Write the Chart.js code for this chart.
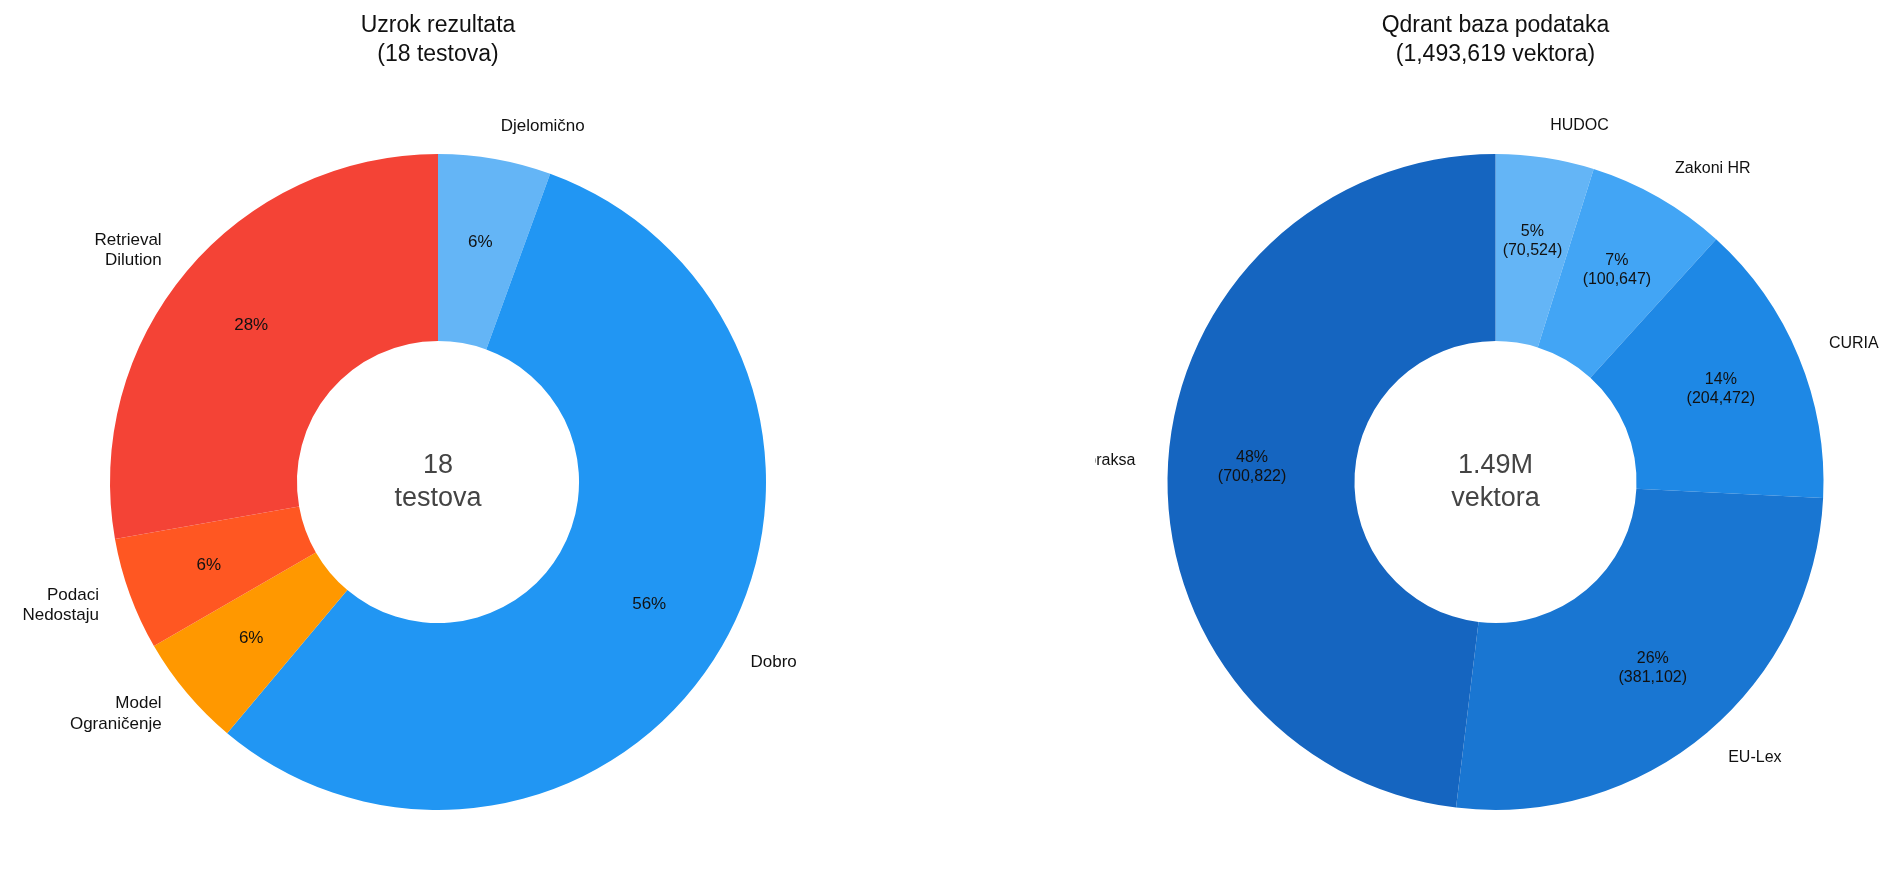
<!DOCTYPE html>
<html>
<head>
<meta charset="utf-8">
<script src="https://cdn.jsdelivr.net/npm/chart.js@4"></script>
<style>
  body { margin: 0; background: #fff; font-family: 'Liberation Sans', Arial, sans-serif; }
  .box { position: absolute; top: 0; height: 878px; }
  .title { position: absolute; top: 10px; width: 100%; text-align: center; font-size: 23px; line-height: 29px; color: #111; }
</style>
</head>
<body>
<div class="box" style="left:0;width:876px">
  <div class="title">Uzrok rezultata<br>(18 testova)</div>
  <canvas id="leftChart"></canvas>
</div>
<div class="box" style="left:1095px;width:801px">
  <div class="title">Qdrant baza podataka<br>(1,493,619 vektora)</div>
  <canvas id="rightChart"></canvas>
</div>
<script>
// left chart data
let causeLabels = ['Djelomično', 'Dobro', 'Model\nOgraničenje', 'Podaci\nNedostaju', 'Retrieval\nDilution'];
let causeValues = [1, 10, 1, 1, 5];
let causeColors = ['#64B5F6', '#2196F3', '#FF9800', '#FF5722', '#F44336'];

// right chart data
let dbLabels = ['HUDOC', 'Zakoni HR', 'CURIA', 'EU-Lex', 'Sudska praksa'];
let dbValues = [70524, 100647, 204472, 381102, 700822];
let dbColors = ['#64B5F6', '#42A5F5', '#1E88E5', '#1976D2', '#1565C0'];

let labelPlugin = {
    id: 'sliceLabels',
    afterDatasetsDraw(chart, args, opts) {
        let ctx = chart.ctx;
        let meta = chart.getDatasetMeta(0);
        let values = chart.data.datasets[0].data;
        let total = values.reduce((a, b) => a + b, 0);
        ctx.save();
        meta.data.forEach((arc, i) => {
            let mid = (arc.startAngle + arc.endAngle) / 2;
            let cos = Math.cos(mid), sin = Math.sin(mid);
            // outside name
            let r = arc.outerRadius * 1.1;
            let lines = chart.data.labels[i].split('\n');
            ctx.font = opts.labelSize + 'px "Liberation Sans", Arial, sans-serif';
            ctx.fillStyle = '#111';
            ctx.textAlign = cos > 0.05 ? 'left' : (cos < -0.05 ? 'right' : 'center');
            ctx.textBaseline = 'middle';
            let lh = opts.labelSize * 1.2;
            lines.forEach((ln, k) => {
                ctx.fillText(ln, arc.x + cos * r, arc.y + sin * r + (k - (lines.length - 1) / 2) * lh);
            });
            // inside percent
            let ri = arc.innerRadius + (arc.outerRadius - arc.innerRadius) * 0.55;
            let pct = Math.round(values[i] / total * 100) + '%';
            let inner = opts.showValue ? [pct, '(' + values[i].toLocaleString('en-US') + ')'] : [pct];
            ctx.textAlign = 'center';
            ctx.font = opts.pctSize + 'px "Liberation Sans", Arial, sans-serif';
            let lh2 = opts.pctSize * 1.2;
            inner.forEach((ln, k) => {
                ctx.fillText(ln, arc.x + cos * ri, arc.y + sin * ri + (k - (inner.length - 1) / 2) * lh2);
            });
        });
        // center text
        ctx.fillStyle = '#444';
        ctx.font = '27px "Liberation Sans", Arial, sans-serif';
        ctx.textAlign = 'center';
        let a = meta.data[0];
        ctx.fillText(opts.center[0], a.x, a.y - 16);
        ctx.fillText(opts.center[1], a.x, a.y + 17);
        ctx.restore();
    }
};

function makeChart(id, labels, values, colors, opts, padLR) {
    let el = document.getElementById(id);
    el.parentNode.style.height = '878px';
    return new Chart(el.getContext('2d'), {
        type: 'doughnut',
        data: {
            labels: labels,
            datasets: [{ data: values, backgroundColor: colors, borderWidth: 0 }]
        },
        options: {
            responsive: true,
            maintainAspectRatio: false,
            animation: false,
            cutout: '43%',
            layout: { padding: { top: 154, bottom: 68, left: padLR, right: padLR } },
            plugins: { legend: { display: false }, tooltip: { enabled: false }, sliceLabels: opts }
        },
        plugins: [labelPlugin]
    });
}

makeChart('leftChart', causeLabels, causeValues, causeColors,
    { labelSize: 17, pctSize: 17, showValue: false, center: ['18', 'testova'] }, 110);
makeChart('rightChart', dbLabels, dbValues, dbColors,
    { labelSize: 16, pctSize: 16, showValue: true, center: ['1.49M', 'vektora'] }, 72);
</script>
</body>
</html>
